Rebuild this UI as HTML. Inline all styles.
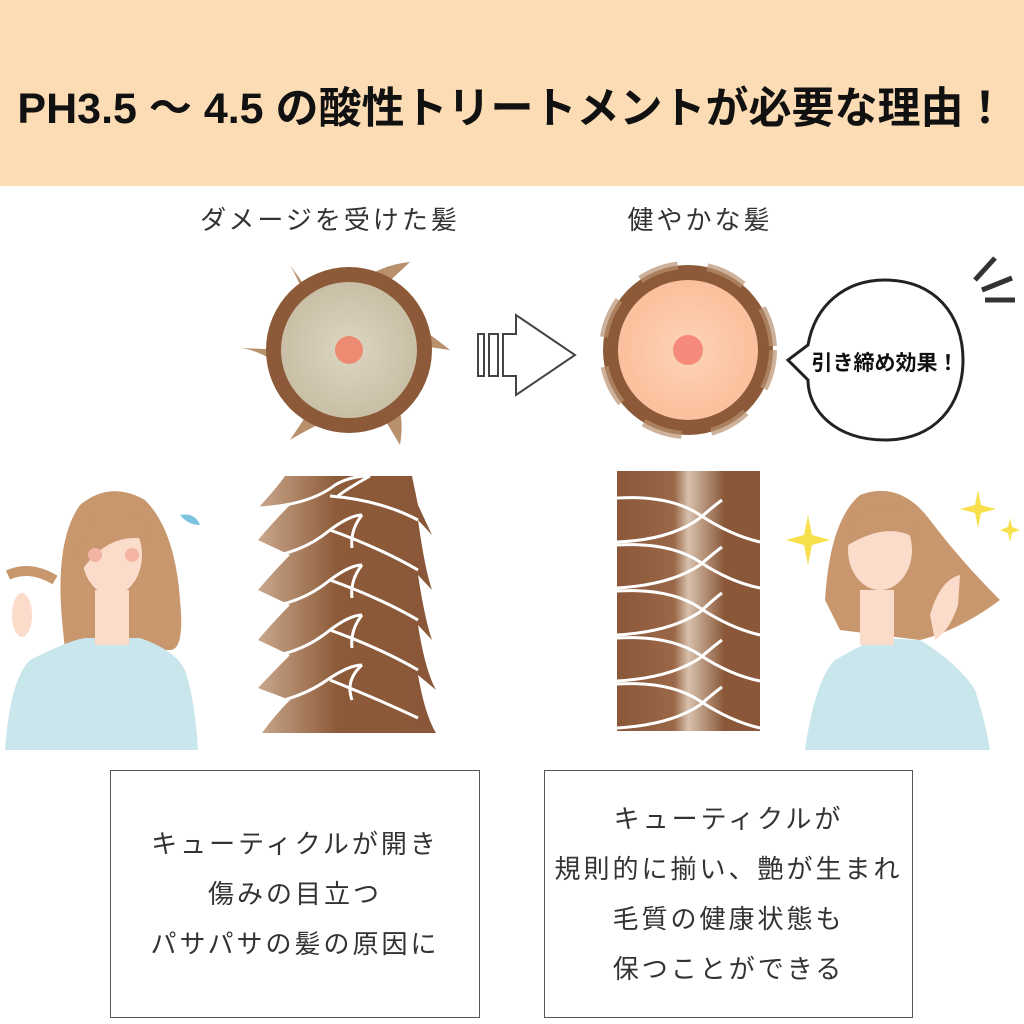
<!DOCTYPE html>
<html><head><meta charset="utf-8"><style>
html,body{margin:0;padding:0;background:#fff;}
body{width:1024px;height:1024px;position:relative;overflow:hidden;font-family:"Liberation Sans","Noto Sans CJK JP",sans-serif;}
.hdr{position:absolute;left:0;top:0;width:1024px;height:186px;background:#fbdcb4;}
.title{position:absolute;left:0;top:74px;width:1024px;text-align:center;font-size:43px;font-weight:bold;color:#111;white-space:nowrap;}
.lab{position:absolute;font-size:26px;letter-spacing:3px;color:#333;text-align:center;}
.box{position:absolute;border:1px solid #555;box-sizing:border-box;display:flex;align-items:center;justify-content:center;text-align:center;font-size:26px;letter-spacing:3px;line-height:50px;color:#333;}
svg{position:absolute;left:0;top:0;}
</style></head><body>
<div class="hdr"></div>
<div class="title">PH3.5 ～ 4.5 の酸性トリートメントが必要な理由！</div>
<div class="lab" style="left:170px;top:200px;width:320px;">ダメージを受けた髪</div>
<div class="lab" style="left:560px;top:200px;width:280px;">健やかな髪</div>
<svg width="1024" height="1024" viewBox="0 0 1024 1024">
<defs>
<radialGradient id="gi" cx="50%" cy="50%" r="50%"><stop offset="0" stop-color="#ddd6c2"/><stop offset="1" stop-color="#c9bfa6"/></radialGradient>
<radialGradient id="pi" cx="50%" cy="50%" r="50%"><stop offset="0" stop-color="#fdd4b6"/><stop offset="1" stop-color="#fbbf9c"/></radialGradient>
<linearGradient id="br" x1="0" x2="1"><stop offset="0" stop-color="#c9a78c"/><stop offset="0.45" stop-color="#8c5a38"/><stop offset="1" stop-color="#8a5838"/></linearGradient>
<linearGradient id="br2" x1="0" x2="1"><stop offset="0" stop-color="#8a5838"/><stop offset="0.4" stop-color="#9a6848"/><stop offset="0.5" stop-color="#d8c0ac"/><stop offset="0.75" stop-color="#8a5838"/><stop offset="1" stop-color="#8a5838"/></linearGradient>
</defs>
<g>
<path d="M290,265 Q310,300 300,310 L315,300 Z" fill="#b8906c"/>
<path d="M410,262 Q380,265 360,282 L380,290 Z" fill="#b8906c"/>
<path d="M450,350 Q425,330 408,320 L415,345 Z" fill="#b8906c"/>
<path d="M400,445 Q405,415 395,400 L385,420 Z" fill="#b8906c"/>
<path d="M290,440 Q315,425 330,420 L310,410 Z" fill="#b8906c"/>
<path d="M242,348 Q265,352 285,370 L285,350 Z" fill="#b8906c"/>
<circle cx="349" cy="350" r="83" fill="#8c5a38"/>
<circle cx="349" cy="350" r="68" fill="url(#gi)"/>
<circle cx="349" cy="350" r="14" fill="#ec8b72"/>
</g>
<g fill="#fff" stroke="#444" stroke-width="2">
<rect x="478" y="334" width="6" height="42"/>
<rect x="489" y="334" width="9" height="42"/>
<path d="M503,334 H516 V315 L575,355 L516,395 V376 H503 Z"/>
</g>
<circle cx="688" cy="350" r="85" fill="#8c5a38"/>
<circle cx="688" cy="350" r="85" fill="none" stroke="#b89070" stroke-width="8" stroke-dasharray="40 30" opacity="0.7"/>
<circle cx="688" cy="350" r="70" fill="url(#pi)"/>
<circle cx="688" cy="350" r="15" fill="#f58a7a"/>
<path d="M885,280 C935,280 963,315 963,360 C963,405 935,440 885,440 C835,440 808,410 808,380 L788,360 L808,345 C815,305 845,280 885,280 Z" fill="#fff" stroke="#222" stroke-width="3"/>
<text x="885" y="370" text-anchor="middle" font-size="21" font-weight="bold" fill="#111" font-family="Liberation Sans,Noto Sans CJK JP,sans-serif">引き締め効果！</text>
<g stroke="#333" stroke-width="5"><line x1="975" y1="280" x2="995" y2="258"/><line x1="982" y1="290" x2="1012" y2="278"/><line x1="985" y1="300" x2="1015" y2="300"/></g>
<path d="M285,476 H412 L418,505 Q425,520 432,535 L418,520 Q425,570 432,590 L418,575 Q425,620 432,640 L418,625 Q425,670 436,690 L418,675 Q425,715 436,733 H300 L262,733 Q275,715 290,700 L258,688 Q275,670 290,655 L258,640 Q275,620 290,605 L258,590 Q275,570 290,555 L258,540 Q275,520 290,505 L258,508 Q275,490 285,476 Z" fill="url(#br)"/>
<g fill="none" stroke="#fff" stroke-width="3">
<path d="M258,508 Q310,505 335,485 Q350,476 370,476"/>
<path d="M330,496 Q380,500 418,520"/>
<path d="M258,558 Q300,555 330,530 Q350,515 362,515"/>
<path d="M330,530 Q380,548 418,570"/>
<path d="M258,608 Q300,605 330,580 Q350,565 362,565"/>
<path d="M330,580 Q380,598 418,620"/>
<path d="M258,658 Q300,655 330,630 Q350,615 362,615"/>
<path d="M330,630 Q380,648 418,670"/>
<path d="M258,705 Q300,700 330,678 Q350,665 362,665"/>
<path d="M330,680 Q380,700 418,718"/>
<path d="M362,515 Q350,530 352,548 M362,565 Q350,580 352,598 M362,615 Q350,630 352,648 M362,665 Q345,680 352,700 M370,476 Q345,490 338,496"/>
</g>
<rect x="617" y="471" width="143" height="260" fill="url(#br2)"/>
<g fill="none" stroke="#fff" stroke-width="3">
<path d="M617,498 Q670,495 700,515 Q730,535 760,542"/><path d="M617,542 Q670,540 700,518 Q715,505 722,500"/>
<path d="M617,545 Q670,542 700,562 Q730,582 760,588"/><path d="M617,588 Q670,585 700,565 Q715,552 722,547"/>
<path d="M617,591 Q670,588 700,608 Q730,628 760,635"/><path d="M617,635 Q670,632 700,612 Q715,598 722,593"/>
<path d="M617,638 Q670,635 700,655 Q730,675 760,681"/><path d="M617,681 Q670,678 700,658 Q715,645 722,640"/>
<path d="M617,684 Q670,681 700,701 Q730,721 760,728"/><path d="M617,728 Q670,725 700,705 Q715,692 722,687"/>
</g>
<path d="M62,620 Q55,540 80,505 Q110,480 145,500 Q175,530 180,600 Q185,650 170,650 L65,650 Z" fill="#c9976d"/>
<path d="M5,750 Q10,680 30,660 Q70,640 85,638 L140,638 Q175,650 185,670 Q195,700 198,750 Z" fill="#c8e6ec"/>
<rect x="95" y="590" width="34" height="55" fill="#fbdccb"/>
<ellipse cx="112" cy="555" rx="30" ry="40" fill="#fbdccb"/>
<path d="M75,560 Q80,510 120,510 Q150,520 150,540 Q110,530 82,570 Z" fill="#c9976d"/>
<circle cx="95" cy="555" r="7" fill="#f3b4a4"/><circle cx="132" cy="555" r="7" fill="#f3b4a4"/>
<path d="M8,575 Q30,565 55,580" stroke="#c9976d" stroke-width="10" fill="none"/>
<ellipse cx="22" cy="615" rx="10" ry="22" fill="#fbdccb"/>
<path d="M180,515 Q195,512 200,525 Q188,525 180,515 Z" fill="#7cc3e0"/>
<path d="M825,600 Q830,520 860,495 Q900,480 930,520 Q960,560 1000,600 Q960,630 920,640 L840,630 Z" fill="#c9976d"/>
<path d="M805,750 Q815,680 835,660 Q870,640 880,638 L920,640 Q960,665 975,690 Q985,720 990,750 Z" fill="#c8e6ec"/>
<rect x="860" y="590" width="34" height="55" fill="#fbdccb"/>
<ellipse cx="880" cy="550" rx="32" ry="40" fill="#fbdccb"/>
<path d="M848,545 Q850,505 885,505 Q915,510 918,540 Q890,520 848,545 Z" fill="#c9976d"/>
<path d="M930,615 Q940,580 960,575 L958,605 Q950,630 935,640 Z" fill="#fbdccb"/>
<g fill="#f8e04c">
<path d="M808,515 L812,535 L830,540 L812,545 L808,565 L804,545 L786,540 L804,535 Z"/>
<path d="M978,490 L981,505 L996,509 L981,513 L978,528 L975,513 L960,509 L975,505 Z"/>
<path d="M1010,518 L1012,527 L1020,530 L1012,533 L1010,542 L1008,533 L1000,530 L1008,527 Z"/>
</g>
</svg>
<div class="box" style="left:110px;top:770px;width:370px;height:248px;">キューティクルが開き<br>傷みの目立つ<br>パサパサの髪の原因に</div>
<div class="box" style="left:544px;top:770px;width:369px;height:248px;">キューティクルが<br>規則的に揃い、艶が生まれ<br>毛質の健康状態も<br>保つことができる</div>
</body></html>
